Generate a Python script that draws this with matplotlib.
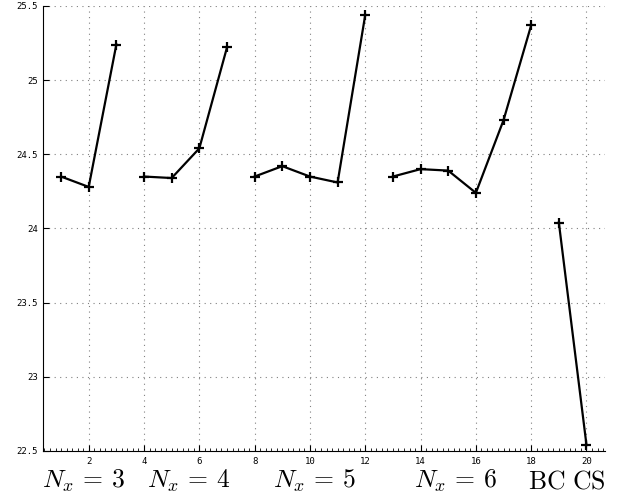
import numpy as np
import matplotlib.pyplot as plt
from matplotlib.ticker import MultipleLocator

plt.rcParams['mathtext.fontset'] = 'cm'

# data, one list per group
x_groups = [[1, 2, 3], [4, 5, 6, 7], [8, 9, 10, 11, 12],
            [13, 14, 15, 16, 17, 18], [19, 20]]
y_groups = [[24.35, 24.28, 25.24],
            [24.35, 24.34, 24.54, 25.22],
            [24.35, 24.42, 24.35, 24.31, 25.44],
            [24.35, 24.40, 24.39, 24.24, 24.73, 25.37],
            [24.04, 22.54]]
group_labels = [r'$N_x\,=\,3$', r'$N_x\,=\,4$', r'$N_x\,=\,5$', r'$N_x\,=\,6$',
                r'$\mathrm{BC\ CS}$']
label_pos = [1.82, 5.62, 10.14, 15.27, 19.29]

fig = plt.figure(figsize=(6.18, 4.95), dpi=100)
ax = fig.add_axes([0.0688, 0.0889, 0.9102, 0.8991])

for xs, ys in zip(x_groups, y_groups):
    ax.plot(xs, ys, color="black", linewidth=1.6, marker="+",
            markersize=7, markeredgewidth=1.6)

ax.set_xlim(0.33, 20.67)
ax.set_ylim(22.5, 25.5)
ax.set_xticks(np.arange(2, 21, 2))
ax.set_yticks([22.5, 23, 23.5, 24, 24.5, 25, 25.5])
ax.set_yticklabels(["22.5", "23", "23.5", "24", "24.5", "25", "25.5"])
ax.xaxis.set_minor_locator(MultipleLocator(0.2))
ax.tick_params(axis="both", direction="in", labelsize=6.5, length=4, width=0.8)
ax.tick_params(axis="x", which="minor", direction="in", length=2, width=0.6)
for lab in ax.get_xticklabels() + ax.get_yticklabels():
    lab.set_family("DejaVu Sans Mono")
ax.tick_params(axis="x", pad=4.5)

ax.grid(True, linestyle=(0, (1, 4)), color="gray", linewidth=0.8)
ax.spines["top"].set_visible(False)
ax.spines["right"].set_visible(False)

for lab, xp in zip(group_labels, label_pos):
    ax.text(xp, -0.068, lab, transform=ax.get_xaxis_transform(),
            ha="center", va="center", fontsize=18.5)

fig.savefig("out.png", dpi=100)
